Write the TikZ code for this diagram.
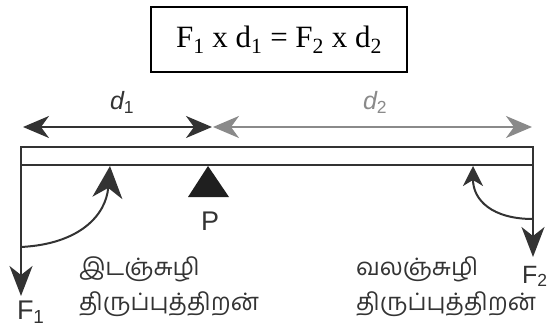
\documentclass[tikz,border=0pt]{standalone}
\usepackage{fontspec}
\setmainfont{Liberation Serif}
\newfontfamily\labelfont{Liberation Sans}
\newfontfamily\tamilfont[Script=Tamil]{Hind Madurai}
\usetikzlibrary{arrows.meta}
\definecolor{beamgray}{HTML}{333333}
\definecolor{armgray}{HTML}{8A8A8A}
\begin{document}
\begin{tikzpicture}[x=1pt,y=-1pt,line width=2pt,>={Stealth[length=26pt,width=22pt,inset=8pt]},
  lbl/.style={font=\labelfont\fontsize{27}{30}\selectfont,text=beamgray,inner sep=0pt,anchor=base west},
  tam/.style={font=\tamilfont\fontsize{24}{28}\selectfont,text=beamgray,inner sep=0pt,anchor=base west},
  force/.style={-{Stealth[length=30pt,width=23pt,inset=9pt]},beamgray}]
\useasboundingbox (0,0) rectangle (549,329);
\node[draw,minimum width=256pt,minimum height=65pt,inner sep=0pt,font=\fontsize{31}{31}\selectfont] (eq) at (279,39.5) {F\textsubscript{1} x d\textsubscript{1} = F\textsubscript{2} x d\textsubscript{2}};
\coordinate (dl) at (23,127);
\coordinate (dm) at (212,127);
\coordinate (dn) at (213,127);
\coordinate (dr) at (532,127);
\draw[<->,beamgray] (dl) -- (dm);
\draw[<->,armgray] (dn) -- (dr);
\node[lbl,font=\labelfont\itshape\fontsize{25}{28}\selectfont] (d1) at (109,110) {d\textsubscript{\upshape 1}};
\node[lbl,font=\labelfont\itshape\fontsize{25}{28}\selectfont,text=armgray] (d2) at (362,110) {d\textsubscript{\upshape 2}};
\draw[beamgray] (21,147) rectangle (533,165);
\fill[black!88] (208,166) -- (229,197) -- (188,197) -- cycle;
\node[lbl] (p) at (200,230) {P};
\coordinate (f1top) at (21,165);
\coordinate (f1tip) at (21,296);
\coordinate (f2top) at (533,165);
\coordinate (f2tip) at (533,257);
\draw[force] (f1top) -- (f1tip);
\draw[force] (f2top) -- (f2tip);
\node[lbl] (f1) at (16,319) {F\textsubscript{1}};
\node[lbl,font=\labelfont\fontsize{25}{28}\selectfont] (f2) at (521,283) {F\textsubscript{2}};
\coordinate (l0) at (21,247);
\coordinate (l1) at (110,166);
\coordinate (r0) at (533,219);
\coordinate (r1) at (473,166);
\draw[-{Stealth[length=32pt,width=30pt,inset=10pt]},beamgray] (l0) .. controls (80,244) and (106,215) .. (l1);
\draw[-{Stealth[length=20pt,width=20pt,inset=6pt]},beamgray] (r0) .. controls (492,219) and (473,200) .. (r1);
\node[tam] (ccw1) at (78,275) {இடஞ்சுழி};
\node[tam] (ccw2) at (78,310) {திருப்புத்திறன்};
\node[tam] (cw1) at (355,275) {வலஞ்சுழி};
\node[tam] (cw2) at (355,310) {திருப்புத்திறன்};
\end{tikzpicture}
\end{document}
